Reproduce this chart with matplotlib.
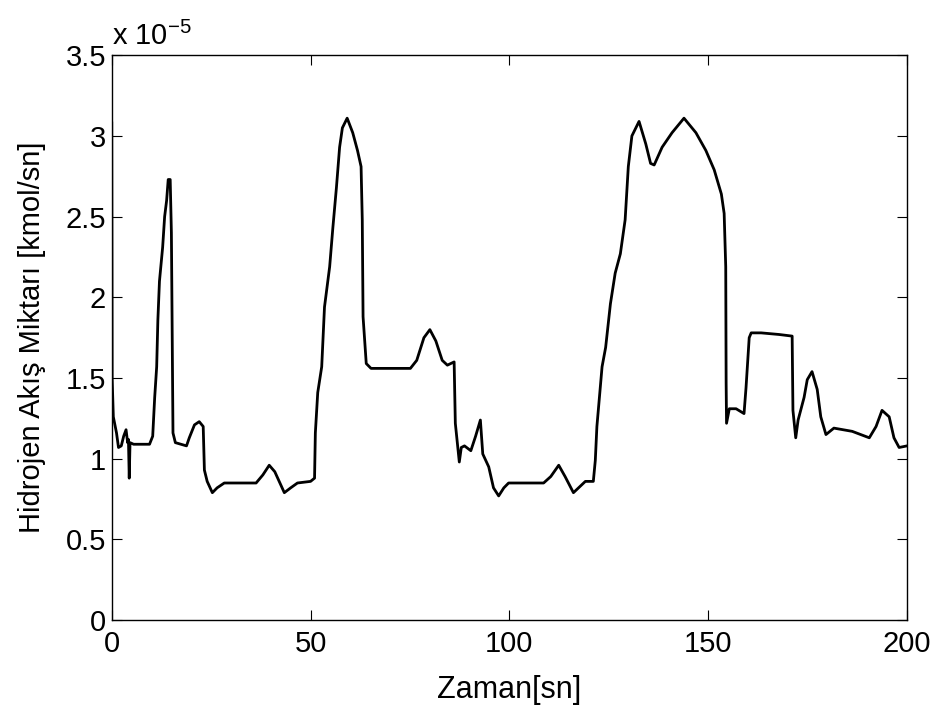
import matplotlib
matplotlib.use("Agg")
import matplotlib.pyplot as plt

# hydrogen flow, in units of 1e-5 kmol/s
t = [0, 0.1, 0.4, 1.2, 1.7, 2.4, 3.0, 3.6, 4.0, 4.2, 4.4, 4.6, 5.5, 9.5, 10.3,
     10.8, 11.3, 11.6, 12.0, 12.8, 13.3, 13.8, 14.2, 14.7, 15.0, 15.2, 15.4,
     16.0, 18.8, 19.5, 20.8, 22.0, 23.0, 23.3, 24.0, 25.3, 26.5, 28.3, 36.3,
     38.0, 39.6, 41.0, 43.4, 45.0, 46.7, 50.0, 51.0, 51.2, 51.8, 52.8, 53.5,
     54.8, 55.6, 56.5, 57.3, 58.0, 59.2, 60.6, 61.8, 62.7, 63.0, 63.2, 64.0,
     65.2, 75.1, 76.7, 78.5, 80.0, 81.5, 83.1, 84.4, 86.1, 86.4, 87.4, 87.9,
     88.7, 90.3, 91.5, 92.7, 93.3, 94.8, 96.0, 97.3, 98.6, 99.8, 108.6, 110.4,
     112.4, 114.0, 116.1, 119.1, 121.1, 121.6, 122.0, 122.5, 123.3, 124.2,
     125.4, 126.6, 127.9, 129.1, 129.9, 130.8, 132.6, 134.3, 135.5, 136.4,
     138.4, 140.9, 143.9, 146.9, 149.4, 151.5, 153.3, 154.0, 154.4, 154.5,
     154.6, 155.3, 157.0, 159.0, 159.5, 160.3, 160.8, 163.3, 167.8, 171.1,
     171.3, 172.0, 172.6, 174.1, 174.9, 176.1, 177.4, 178.3, 179.6, 181.6,
     186.2, 190.5, 192.2, 193.7, 195.5, 196.7, 198.0, 200.0]
h2_flow = [3.08, 1.5, 1.26, 1.16, 1.07, 1.08, 1.14, 1.18, 1.1, 1.12, 0.88, 1.1,
           1.09, 1.09, 1.14, 1.38, 1.57, 1.86, 2.1, 2.31, 2.5, 2.6, 2.73, 2.73,
           2.4, 1.75, 1.16, 1.1, 1.08, 1.13, 1.21, 1.23, 1.2, 0.93, 0.86, 0.79,
           0.82, 0.85, 0.85, 0.9, 0.96, 0.92, 0.79, 0.82, 0.85, 0.86, 0.88, 1.16,
           1.41, 1.57, 1.94, 2.19, 2.43, 2.68, 2.93, 3.05, 3.11, 3.02, 2.91, 2.81,
           2.48, 1.88, 1.59, 1.56, 1.56, 1.61, 1.75, 1.8, 1.73, 1.61, 1.58, 1.6,
           1.22, 0.98, 1.07, 1.08, 1.05, 1.14, 1.24, 1.03, 0.95, 0.82, 0.77, 0.82,
           0.85, 0.85, 0.89, 0.96, 0.89, 0.79, 0.86, 0.86, 0.99, 1.2, 1.34, 1.57,
           1.69, 1.96, 2.15, 2.27, 2.48, 2.81, 3.0, 3.09, 2.95, 2.83, 2.82, 2.93,
           3.02, 3.11, 3.02, 2.91, 2.79, 2.64, 2.52, 2.19, 1.47, 1.22, 1.31, 1.31,
           1.28, 1.44, 1.75, 1.78, 1.78, 1.77, 1.76, 1.3, 1.13, 1.24, 1.38, 1.49,
           1.54, 1.43, 1.26, 1.15, 1.19, 1.17, 1.13, 1.2, 1.3, 1.26, 1.13, 1.07,
           1.08]

x_ticks = [0, 50, 100, 150, 200]
y_ticks = [0, 0.5, 1, 1.5, 2, 2.5, 3, 3.5]
y_tick_labels = ["0", "0.5", "1", "1.5", "2", "2.5", "3", "3.5"]

plt.rcParams["font.family"] = ["Liberation Sans", "DejaVu Sans"]
plt.rcParams["mathtext.fontset"] = "custom"
plt.rcParams["mathtext.rm"] = "Liberation Sans"

fig = plt.figure(figsize=(9.39, 7.08), dpi=100)
ax = fig.add_axes([0.119, 0.124, 0.847, 0.798])

ax.plot(t, h2_flow, color="black", linewidth=2.0)

ax.set_xlim(0, 200)
ax.set_ylim(0, 3.5)
ax.set_xticks(x_ticks)
ax.set_yticks(y_ticks)
ax.set_yticklabels(y_tick_labels)
ax.tick_params(direction="in", length=7, width=0.8, labelsize=21,
               top=True, right=True)
ax.tick_params(axis="x", pad=7)
ax.tick_params(axis="y", pad=4)
for s in ax.spines.values():
    s.set_linewidth(1.0)

ax.set_xlabel("Zaman[sn]", fontsize=22, labelpad=12)
ax.set_ylabel("Hidrojen Akış Miktarı [kmol/sn]", fontsize=21, labelpad=14)
ax.text(0.0, 1.008, r"x 10$^{-5}$", transform=ax.transAxes,
        fontsize=21, ha="left", va="bottom")

fig.savefig("out.png", dpi=100)
plt.close(fig)
